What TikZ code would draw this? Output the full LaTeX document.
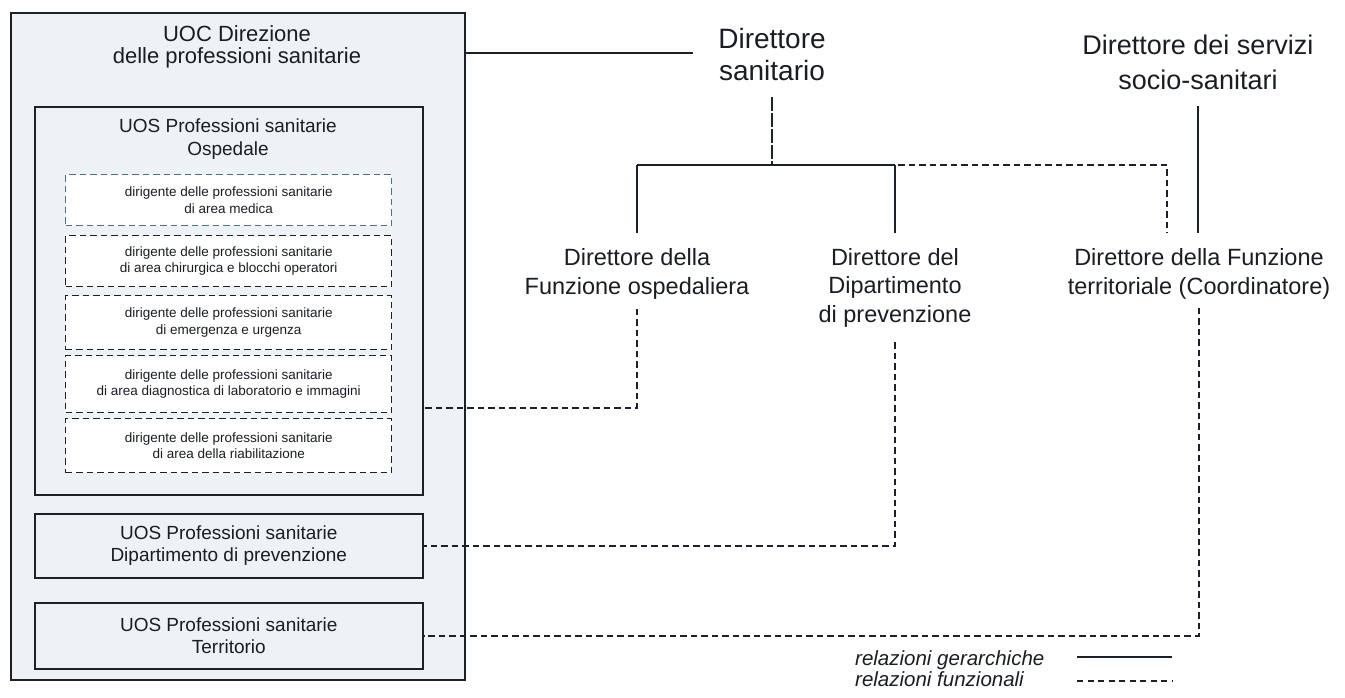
\documentclass[tikz,border=0pt]{standalone}
\usepackage{fontspec}
\setmainfont{Liberation Sans}
\definecolor{linec}{HTML}{1C2129}
\definecolor{boxbg}{HTML}{EFF2F4}
\definecolor{dashblue}{HTML}{4E7285}
\definecolor{textc}{HTML}{1A1E24}
\begin{document}
\begin{tikzpicture}[x=1pt,y=-1pt,
  hier/.style={draw=linec, line width=1.6pt},
  func/.style={draw=linec, line width=1.6pt, dash pattern=on 6.5pt off 4pt},
  solidbox/.style={draw=linec, line width=1.6pt, fill=boxbg, inner sep=0pt, anchor=north west},
  dashbox/.style={draw=linec, line width=1.4pt, dash pattern=on 6.5pt off 4pt, fill=white,
    inner sep=0pt, anchor=north west, minimum width=326pt, align=center, text=textc,
    font=\fontsize{13.5}{16.5}\selectfont},
  uostext/.style={align=center, inner sep=0pt, text=textc, font=\fontsize{19}{22.5}\selectfont},
  lbl/.style={align=center, inner sep=0pt, text=textc},
  legtext/.style={inner sep=0pt, text=textc, font=\fontsize{20.5}{24}\selectfont\itshape},
]
\fill[white] (0,0) rectangle (1345,697);
\useasboundingbox (0,0) rectangle (1345,697);

% outer unit
\node[solidbox, minimum width=454pt, minimum height=667pt] (uoc) at (10,12) {};
\node[lbl, font=\fontsize{22}{22}\selectfont] (uoctxt) at (237,47) {UOC Direzione\\delle professioni sanitarie};

% hospital unit with its five managers
\node[solidbox, minimum width=388pt, minimum height=388pt] (osp) at (34,106) {};
\node[uostext] (osptxt) at (228,139) {UOS Professioni sanitarie\\Ospedale};

\node[dashbox, draw=dashblue, minimum height=51pt] (d1) at (65,174)
  {dirigente delle professioni sanitarie\\di area medica};
\node[dashbox, minimum height=51pt] (d2) at (65,235)
  {dirigente delle professioni sanitarie\\di area chirurgica e blocchi operatori};
\node[dashbox, minimum height=54pt] (d3) at (65,295)
  {dirigente delle professioni sanitarie\\di emergenza e urgenza};
\node[dashbox, minimum height=57pt] (d4) at (65,355)
  {dirigente delle professioni sanitarie\\di area diagnostica di laboratorio e immagini};
\node[dashbox, minimum height=54pt] (d5) at (65,418)
  {dirigente delle professioni sanitarie\\di area della riabilitazione};

% prevention and territory units
\node[solidbox, minimum width=388pt, minimum height=64pt, uostext, anchor=north west] (dip) at (34,513)
  {UOS Professioni sanitarie\\Dipartimento di prevenzione};
\node[solidbox, minimum width=388pt, minimum height=66pt, uostext, anchor=north west] (ter) at (34,602)
  {UOS Professioni sanitarie\\Territorio};

% directors
\node[lbl, font=\fontsize{28}{32}\selectfont] (ds) at (772,54) {Direttore\\sanitario};
\node[lbl, font=\fontsize{27}{35}\selectfont] (dss) at (1198,62.5) {Direttore dei servizi\\socio-sanitari};
\node[lbl, font=\fontsize{23.5}{29.5}\selectfont] (fo) at (637,274) {Direttore della\\Funzione ospedaliera};
\node[lbl, font=\fontsize{23.5}{28.5}\selectfont] (dp) at (895,287.5) {Direttore del\\Dipartimento\\di prevenzione};
\node[lbl, font=\fontsize{23.5}{29.5}\selectfont] (ft) at (1199,274) {Direttore della Funzione\\territoriale (Coordinatore)};

% junction points
\coordinate (dsin) at (693,53);
\coordinate (j) at (772,165);
\coordinate (ftl) at (1167,233);
\coordinate (c1) at (637,408);

% hierarchical links
\draw[hier] (uoc.east |- dsin) -- (dsin);
\draw[hier, dash pattern=on 14pt off 2pt, shorten <=17pt] (ds.south) -- (j);
\draw[hier] (fo.north |- j) -- (dp.north |- j);
\draw[hier, shorten >=15pt] (fo.north |- j) -- (fo.north);
\draw[hier, shorten >=15pt] (dp.north |- j) -- (dp.north);
\draw[hier, shorten <=16pt, shorten >=15pt] (dss.south) -- (dss.south |- ft.north);

% functional links
\draw[func] (j) -| (ftl);
\draw[func, shorten <=9pt] (fo.south) |- (osp.east |- c1);
\draw[func, shorten <=15pt] (dp.south) |- (dip.east);
\draw[func, shorten <=8pt] (ft.south) |- (ter.east);

% legend
\node[legtext, anchor=base west] (lg1) at (855,665) {relazioni gerarchiche};
\node[legtext, anchor=base west] (lg2) at (855,686) {relazioni funzionali};
\coordinate (h1) at (1077,657);
\coordinate (h2) at (1172,657);
\coordinate (f1) at (1077,681);
\coordinate (f2) at (1172,681);
\draw[hier] (h1) -- (h2);
\draw[func, dash pattern=on 6pt off 4.5pt] (f1) -- (f2);
\end{tikzpicture}
\end{document}
